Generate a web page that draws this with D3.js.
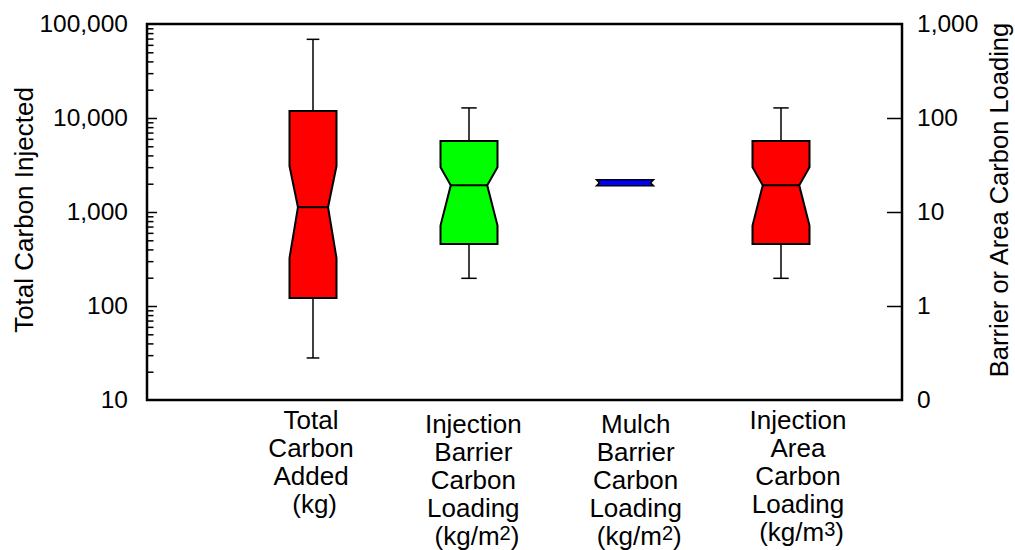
<!DOCTYPE html>
<html>
<head>
<meta charset="utf-8">
<script src="https://cdn.jsdelivr.net/npm/d3@7/dist/d3.min.js"></script>
<style>
  html, body { margin: 0; padding: 0; background: #fff; }
  svg { display: block; font-family: "Liberation Sans", Arial, Helvetica, sans-serif; }
  text { white-space: pre; }
</style>
</head>
<body>
<svg id="chart" width="1015" height="550"></svg>
<script>
// ---------- data ----------
const categories = ["Total Carbon Added", "Injection Barrier Carbon Loading", "Mulch Barrier Carbon Loading", "Injection Area Carbon Loading"];
const categoryLabelLines = [
  ["Total", "Carbon", "Added", " (kg)"],
  ["Injection", "Barrier", "Carbon", "Loading", [" (kg/m", "2", ")"]],
  ["Mulch", "Barrier", "Carbon", "Loading", [" (kg/m", "2", ")"]],
  ["Injection", "Area", "Carbon", "Loading", [" (kg/m", "3", ")"]]
];
const axisOf      = ["left", "right", "right", "right"];
const whiskerLow  = [28,    1.97, 19.0, 1.97];
const quartile1   = [122,   4.58, 19.0, 4.58];
const notchLow    = [324,   7.18, 19.0, 7.18];
const medians     = [1125,  19.2, 20.4, 19.2];
const notchHigh   = [3080,  30.0, 22.0, 30.0];
const quartile3   = [11900, 56.9, 22.0, 56.9];
const whiskerHigh = [68700, 128,  22.0, 128];
const fills       = ["#ff0000", "#00ff00", "#0000ff", "#ff0000"];

const leftTickValues  = [10, 100, 1000, 10000, 100000];
const leftTickLabels  = ["10", "100", "1,000", "10,000", "100,000"];
const rightTickValues = [0.1, 1, 10, 100, 1000];
const rightTickLabels = ["0", "1", "10", "100", "1,000"];
const leftTitle  = "Total Carbon Injected";
const rightTitle = "Barrier or Area Carbon Loading";

// ---------- layout ----------
const X0 = 147, X1 = 902, Y0 = 24, Y1 = 400;
const svg = d3.select("#chart");

const yL = d3.scaleLog().domain([10, 100000]).range([Y1, Y0]);
const yR = d3.scaleLog().domain([0.1, 1000]).range([Y1, Y0]);
const xBox = d3.scalePoint().domain(categories).range([313, 781]);
const xLab = d3.scalePoint().domain(categories).range([311, 798]);

const boxes = categories.map((c, i) => ({
  cat: c, axis: axisOf[i], fill: fills[i],
  lo: whiskerLow[i], q1: quartile1[i], nl: notchLow[i], med: medians[i],
  nh: notchHigh[i], q3: quartile3[i], hi: whiskerHigh[i],
  w: i === 0 ? 47 : 57
}));

const g = svg.append("g");
boxes.forEach(b => {
  const y = b.axis === "left" ? yL : yR;
  const cx = xBox(b.cat);
  const x0 = cx - b.w / 2, x1 = cx + b.w / 2;
  const thin = (y(b.q1) - y(b.q3)) < 10;
  const ins = thin ? 3 : b.w * 0.18;
  const cap = b.w * 0.27;
  const sw = thin ? 1.5 : 2;
  if (!thin) {
    g.append("line").attr("x1", cx).attr("x2", cx).attr("y1", y(b.q3)).attr("y2", y(b.hi))
      .attr("stroke", "#000").attr("stroke-width", 1.5);
    g.append("line").attr("x1", cx).attr("x2", cx).attr("y1", y(b.q1)).attr("y2", y(b.lo))
      .attr("stroke", "#000").attr("stroke-width", 1.5);
    g.append("line").attr("x1", cx - cap / 2).attr("x2", cx + cap / 2).attr("y1", y(b.hi)).attr("y2", y(b.hi))
      .attr("stroke", "#000").attr("stroke-width", 1.5);
    g.append("line").attr("x1", cx - cap / 2).attr("x2", cx + cap / 2).attr("y1", y(b.lo)).attr("y2", y(b.lo))
      .attr("stroke", "#000").attr("stroke-width", 1.5);
  }
  const pts = [
    [x0, y(b.q1)], [x0, y(b.nl)], [x0 + ins, y(b.med)], [x0, y(b.nh)], [x0, y(b.q3)],
    [x1, y(b.q3)], [x1, y(b.nh)], [x1 - ins, y(b.med)], [x1, y(b.nl)], [x1, y(b.q1)]
  ];
  g.append("path").attr("d", d3.line()(pts) + "Z")
    .attr("fill", b.fill).attr("stroke", "#000").attr("stroke-width", sw).attr("stroke-linejoin", "miter");
  if (!thin) {
    g.append("line").attr("x1", x0 + ins).attr("x2", x1 - ins).attr("y1", y(b.med)).attr("y2", y(b.med))
      .attr("stroke", "#000").attr("stroke-width", 2);
  }
});

// ---------- axes ----------
const tickFont = 24.5;
const textFont = 26;
const minorL = [];
[10, 100, 1000, 10000].forEach(d => { for (let k = 2; k <= 9; k++) minorL.push(d * k); });
svg.append("g").attr("transform", `translate(${X0},0)`)
  .call(d3.axisRight(yL).tickValues(leftTickValues.slice(1, -1)).tickSize(10).tickFormat(""))
  .call(a => a.select(".domain").remove())
  .call(a => a.selectAll("line").attr("stroke", "#000").attr("stroke-width", 1.5));
svg.append("g").attr("transform", `translate(${X0},0)`)
  .call(d3.axisRight(yL).tickValues(minorL).tickSize(6.5).tickFormat(""))
  .call(a => a.select(".domain").remove())
  .call(a => a.selectAll("line").attr("stroke", "#000").attr("stroke-width", 1.5));
svg.append("g").attr("transform", `translate(${X0},0)`)
  .call(d3.axisLeft(yL).tickValues(leftTickValues).tickSize(0).tickPadding(19)
    .tickFormat((d, i) => leftTickLabels[i]))
  .call(a => a.select(".domain").remove())
  .call(a => a.selectAll("text").attr("font-size", tickFont).attr("fill", "#000")
    .attr("font-family", '"Liberation Sans", Arial, sans-serif'));

svg.append("g").attr("transform", `translate(${X1},0)`)
  .call(d3.axisLeft(yR).tickValues(rightTickValues.slice(1, -1)).tickSize(15).tickFormat(""))
  .call(a => a.select(".domain").remove())
  .call(a => a.selectAll("line").attr("stroke", "#000").attr("stroke-width", 1.5));
svg.append("g").attr("transform", `translate(${X1},0)`)
  .call(d3.axisRight(yR).tickValues(rightTickValues).tickSize(0).tickPadding(15)
    .tickFormat((d, i) => rightTickLabels[i]))
  .call(a => a.select(".domain").remove())
  .call(a => a.selectAll("text").attr("font-size", tickFont).attr("fill", "#000")
    .attr("font-family", '"Liberation Sans", Arial, sans-serif'));

svg.append("rect").attr("x", X0).attr("y", Y0).attr("width", X1 - X0).attr("height", Y1 - Y0)
  .attr("fill", "none").attr("stroke", "#000").attr("stroke-width", 2.5);

svg.append("text").attr("transform", `translate(33,${(Y0 + Y1) / 2 - 2}) rotate(-90)`)
  .attr("text-anchor", "middle").attr("font-size", textFont).text(leftTitle);
svg.append("text").attr("transform", `translate(1008,${(Y0 + Y1) / 2 - 12}) rotate(-90)`)
  .attr("text-anchor", "middle").attr("font-size", 25.5).text(rightTitle);

const lineH = 28;
const startY = [429, 433, 433, 429];
categories.forEach((c, i) => {
  const cx = xLab(c);
  categoryLabelLines[i].forEach((ln, j) => {
    const t = svg.append("text").attr("x", cx).attr("y", startY[i] + j * lineH)
      .attr("text-anchor", "middle").attr("font-size", textFont);
    if (Array.isArray(ln)) {
      t.append("tspan").text(ln[0]);
      t.append("tspan").attr("font-size", 20).attr("dy", -5).text(ln[1]);
      t.append("tspan").attr("dy", 5).text(ln[2]);
    } else {
      t.text(ln);
    }
  });
});
</script>
</body>
</html>
